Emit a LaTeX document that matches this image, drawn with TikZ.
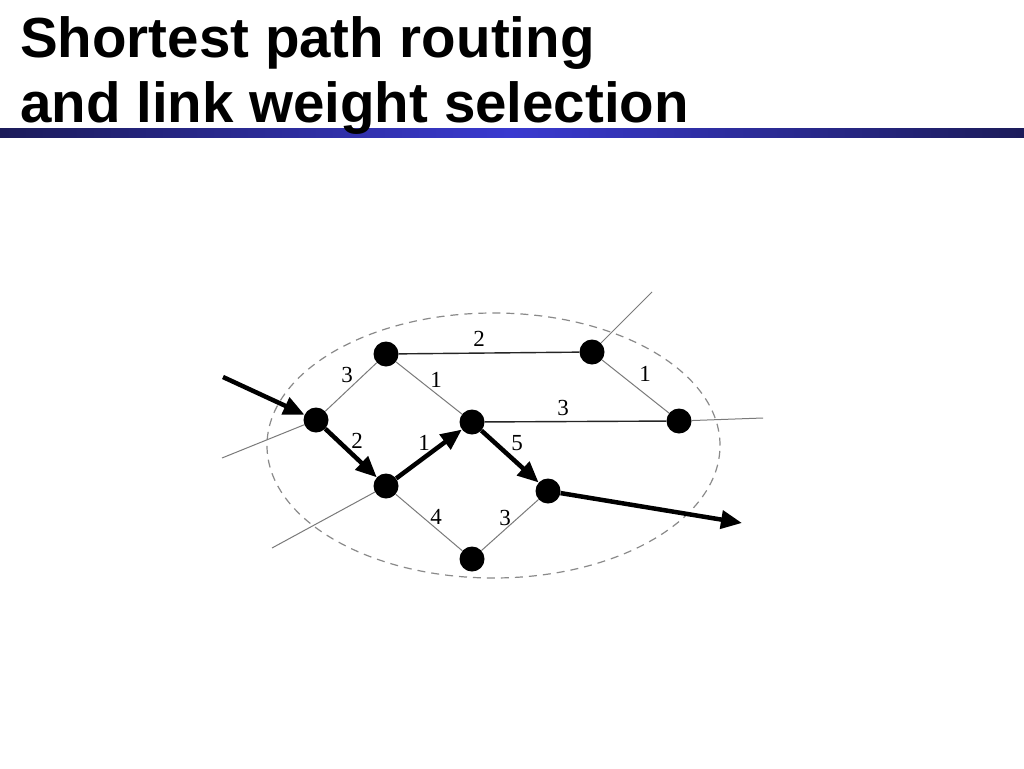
\documentclass[tikz,border=0pt]{standalone}
\usepackage{fontspec}
\setmainfont{Liberation Serif}
\newfontfamily\titlefont{Liberation Sans}
\usetikzlibrary{arrows.meta}
\definecolor{barDark}{HTML}{1C1C5A}
\definecolor{barLight}{HTML}{3A3AD0}
\definecolor{edgeGray}{HTML}{7A7A7A}
\definecolor{ellGray}{HTML}{8A8A8A}
\begin{document}
\begin{tikzpicture}[x=1pt,y=-1pt,
  dot/.style={circle,fill=black,minimum size=25pt,inner sep=0pt},
  thinedge/.style={draw=edgeGray, line width=1pt},
  darkedge/.style={draw=black!85, line width=1.4pt},
  patharrow/.style={line width=4.5pt, -{Triangle[length=21pt,width=18pt]}},
  wlabel/.style={font=\fontsize{23}{23}\selectfont, inner sep=0pt},
  titletext/.style={anchor=base west, inner sep=0pt, font=\titlefont\bfseries\fontsize{56.5}{56.5}\selectfont}
  ]
\useasboundingbox (0,0) rectangle (1024,768);
\fill[white] (0,0) rectangle (1024,768);
% title bar
\shade[left color=barDark, right color=barLight] (0,128) rectangle (512,137);
\shade[left color=barLight, right color=barDark] (511.5,128) rectangle (1024,137);
\node[titletext] (t1) at (20,57) {Shortest path routing};
\node[titletext] (t2) at (20,122) {and link weight selection};
% boundary
\draw[ellGray, line width=1.2pt, dash pattern=on 8pt off 6pt] (493.5,445.5) ellipse [x radius=226.5pt, y radius=132.5pt];
% nodes
\node[dot] (A) at (316,420) {};
\node[dot] (B) at (386,354) {};
\node[dot] (C) at (592,352) {};
\node[dot] (D) at (679,421) {};
\node[dot] (E) at (472,422) {};
\node[dot] (F) at (386,486) {};
\node[dot] (G) at (548,491) {};
\node[dot] (H) at (472,559) {};
% free ends
\coordinate (inS) at (223,377);
\coordinate (outT) at (742,523);
\coordinate (cX) at (652,292);
\coordinate (dX) at (763,418);
\coordinate (aX) at (222,458);
\coordinate (fX) at (272,548);
% links
\draw[thinedge] (A) -- (B);
\draw[thinedge] (B) -- (E);
\draw[thinedge] (C) -- (D);
\draw[thinedge] (F) -- (H);
\draw[thinedge] (H) -- (G);
\draw[darkedge] (B) -- (C);
\draw[darkedge] (E) -- (D);
\draw[thinedge] (C) -- (cX);
\draw[thinedge] (D) -- (dX);
\draw[thinedge] (A) -- (aX);
\draw[thinedge] (F) -- (fX);
% shortest path
\draw[patharrow] (inS) -- (A);
\draw[patharrow] (A) -- (F);
\draw[patharrow] (F) -- (E);
\draw[patharrow] (E) -- (G);
\draw[patharrow] (G) -- (outT);
% weights
\node[wlabel] (wAB) at (347,375) {3};
\node[wlabel] (wBE) at (436,380) {1};
\node[wlabel] (wBC) at (479,339) {2};
\node[wlabel] (wCD) at (645,374) {1};
\node[wlabel] (wED) at (563,408) {3};
\node[wlabel] (wAF) at (357,441) {2};
\node[wlabel] (wFE) at (424,443) {1};
\node[wlabel] (wEG) at (517,443) {5};
\node[wlabel] (wFH) at (436,517) {4};
\node[wlabel] (wHG) at (505,518) {3};
\end{tikzpicture}
\end{document}
